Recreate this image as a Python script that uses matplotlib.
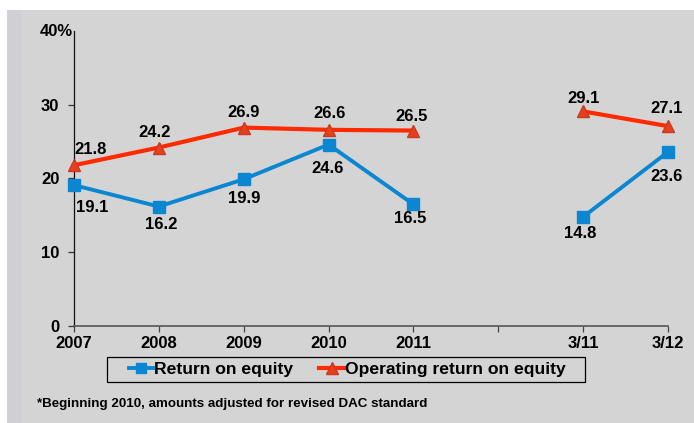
import matplotlib
matplotlib.use("Agg")
import matplotlib.pyplot as plt
from matplotlib.patches import Rectangle
import numpy as np

plt.rcParams['font.family'] = ['Liberation Sans', 'DejaVu Sans']
plt.rcParams['font.weight'] = 'bold'

categories = ["2007", "2008", "2009", "2010", "2011", "", "3/11", "3/12"]
roe_main = [19.1, 16.2, 19.9, 24.6, 16.5]
oroe_main = [21.8, 24.2, 26.9, 26.6, 26.5]
roe_q = [14.8, 23.6]
oroe_q = [29.1, 27.1]
yticks = [0, 10, 20, 30]
ymax = 40

blue = "#0a87d0"
red = "#ff2a00"
tri_face = "#e8401e"
tri_edge = "#c83a22"

fig = plt.figure(figsize=(6.94, 4.23), dpi=100, facecolor="white")
W, H = 694, 423
# background panels
fig.patches.append(Rectangle((7 / W, 0), 1, 1 - 10 / H, transform=fig.transFigure,
                             facecolor="#d4d4d4", edgecolor="none", zorder=-10))
fig.patches.append(Rectangle((7 / W, 0), 15 / W, 1 - 10 / H, transform=fig.transFigure,
                             facecolor="#cfd0d4", edgecolor="none", zorder=-9))

ax = fig.add_axes([74 / W, 1 - 326 / H, (668 - 74) / W, (326 - 31) / H])
ax.set_facecolor("none")

x_main = np.arange(5)
x_q = np.array([6, 7])

for xs, ys in [(x_main, roe_main), (x_q, roe_q)]:
    ax.plot(xs, ys, color=blue, lw=2.8, marker="s", markersize=8.5,
            markerfacecolor=blue, markeredgecolor=blue, clip_on=False, zorder=3,
            label="Return on equity" if xs is x_main else None)
for xs, ys in [(x_main, oroe_main), (x_q, oroe_q)]:
    ax.plot(xs, ys, color=red, lw=3.0, marker="^", markersize=9,
            markerfacecolor=tri_face, markeredgecolor=tri_edge, clip_on=False, zorder=4,
            label="Operating return on equity" if xs is x_main else None)

fs = 12
# red labels (above)
red_off = [(12, 11), (-3, 11), (0, 11), (1, 12), (-1, 10)]
for x, y, o in zip(x_main, oroe_main, red_off):
    ax.annotate(f"{y:.1f}", (x, y), xytext=o, textcoords="offset points",
                ha="center", va="center", fontsize=fs, fontweight="bold")
red_off_q = [(0, 9), (-1, 13)]
for x, y, o in zip(x_q, oroe_q, red_off_q):
    ax.annotate(f"{y:.1f}", (x, y), xytext=o, textcoords="offset points",
                ha="center", va="center", fontsize=fs, fontweight="bold")
# blue labels (below)
blue_off = [(13, -16), (2, -13), (0, -14), (-1, -17), (-2, -10)]
for x, y, o in zip(x_main, roe_main, blue_off):
    ax.annotate(f"{y:.1f}", (x, y), xytext=o, textcoords="offset points",
                ha="center", va="center", fontsize=fs, fontweight="bold")
blue_off_q = [(-2, -12), (-1, -18)]
for x, y, o in zip(x_q, roe_q, blue_off_q):
    ax.annotate(f"{y:.1f}", (x, y), xytext=o, textcoords="offset points",
                ha="center", va="center", fontsize=fs, fontweight="bold")

ax.set_xlim(0, 7)
ax.set_ylim(0, ymax)
ax.set_yticks(yticks)
ax.set_yticklabels([str(v) for v in yticks], fontsize=fs, fontweight="bold")
ax.set_xticks(np.arange(len(categories)))
ax.set_xticklabels(categories, fontsize=fs, fontweight="bold")
ax.tick_params(axis="y", length=4.5, width=0.9, pad=6, color="#333333")
ax.tick_params(axis="x", length=4, width=0.9, pad=3, color="#444444")
ax.annotate("40%", (0, ymax), xytext=(-1, 0), textcoords="offset points",
            ha="right", va="center", fontsize=fs, fontweight="bold", annotation_clip=False)

for s in ["top", "right"]:
    ax.spines[s].set_visible(False)
ax.spines["left"].set_color("#111111")
ax.spines["left"].set_linewidth(0.9)
ax.spines["bottom"].set_color("#555555")
ax.spines["bottom"].set_linewidth(1.2)

# legend box
fig.patches.append(Rectangle((107 / W, 1 - 382 / H), 478 / W, 25 / H, transform=fig.transFigure,
                             facecolor="none", edgecolor="black", linewidth=0.9))
ax.legend(loc="center", bbox_to_anchor=(347 / W, 1 - 369.5 / H),
          bbox_transform=fig.transFigure, ncol=2, frameon=False,
          prop={"size": 12.6, "weight": "bold"}, handlelength=1.4, handletextpad=0.05,
          columnspacing=1.5, markerscale=0.9)

fig.text(37 / W, 1 - 404 / H, "*Beginning 2010, amounts adjusted for revised DAC standard",
         fontsize=9.6, fontweight="bold", ha="left", va="center")

fig.savefig("out.png", dpi=100, facecolor="white")
